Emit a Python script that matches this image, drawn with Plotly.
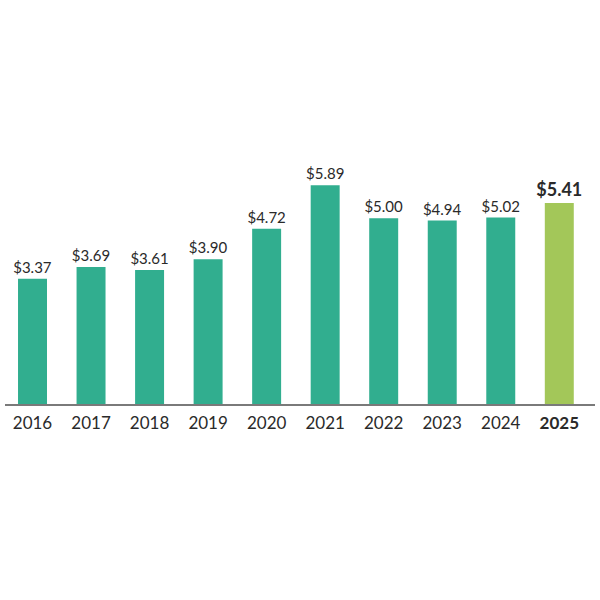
import plotly.graph_objects as go

years = ["2016", "2017", "2018", "2019", "2020", "2021", "2022", "2023", "2024", "2025"]
values = [3.37, 3.69, 3.61, 3.90, 4.72, 5.89, 5.00, 4.94, 5.02, 5.41]
tick_labels = years[:-1] + ["<b>2025</b>"]

teal = "#31ae8f"
green = "#a3c759"
colors = [teal] * 9 + [green]
labels = ["$%.2f" % v for v in values]
labels[-1] = "<b>" + labels[-1] + "</b>"

fig = go.Figure(go.Bar(
    x=years,
    y=values,
    marker=dict(color=colors, line=dict(width=0)),
    text=labels,
    textposition="outside",
    constraintext="none",
    cliponaxis=False,
    textfont=dict(family="Lato", color="#2a2a2a", size=[15] * 9 + [18]),
))

fig.update_layout(
    width=600,
    height=600,
    margin=dict(l=5, r=5, t=144, b=196),
    plot_bgcolor="white",
    paper_bgcolor="white",
    bargap=0.505,
    showlegend=False,
    font=dict(family="Lato", color="#2a2a2a"),
)
fig.update_xaxes(
    type="category",
    range=[-0.47, 9.61],
    tickvals=years,
    ticktext=tick_labels,
    tickfont=dict(size=17),
    ticklabelstandoff=3,
    showline=True,
    linecolor="#7a7a7a",
    linewidth=2,
    ticks="",
    showgrid=False,
)
fig.update_yaxes(range=[0, 7], visible=False, showgrid=False)

# page has a default body margin; drop it so the figure sits at the window corner
fig.write_html(
    "out.html",
    config={"displayModeBar": False},
    post_script="document.body.style.margin='0';",
)
